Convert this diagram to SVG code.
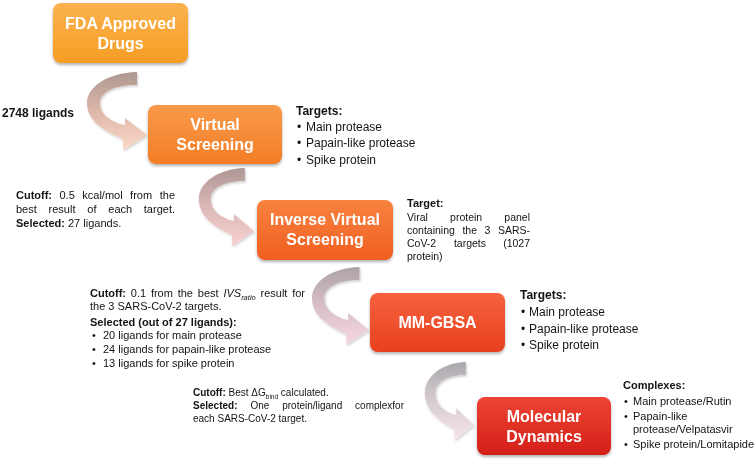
<svg xmlns="http://www.w3.org/2000/svg" xmlns:xlink="http://www.w3.org/1999/xlink" width="756" height="463" viewBox="0 0 756 463">
<style>
text{font-family:"Liberation Sans",Arial,sans-serif;fill:#141414}
.bt{font-weight:bold;font-size:16px;fill:#fff;text-anchor:middle}
.b{font-weight:bold}
.t12{font-size:12px}
.t11{font-size:11px}
.t105{font-size:10.5px}
.t10{font-size:10px}
.e{text-anchor:end}
</style>
<defs>
<filter id="sh" x="-10%" y="-10%" width="120%" height="130%">
<feDropShadow dx="0" dy="2" stdDeviation="1.5" flood-color="#000" flood-opacity="0.3"/>
</filter>
<filter id="ash" x="-20%" y="-20%" width="140%" height="140%">
<feDropShadow dx="1" dy="1.5" stdDeviation="1.2" flood-color="#000" flood-opacity="0.2"/>
</filter>
<linearGradient id="g1" x1="0" y1="0" x2="0" y2="1"><stop offset="0" stop-color="#fbb24e"/><stop offset="1" stop-color="#f69d25"/></linearGradient>
<linearGradient id="g2" x1="0" y1="0" x2="0" y2="1"><stop offset="0" stop-color="#f99a4a"/><stop offset="1" stop-color="#f37d26"/></linearGradient>
<linearGradient id="g3" x1="0" y1="0" x2="0" y2="1"><stop offset="0" stop-color="#f8823f"/><stop offset="1" stop-color="#ef5f20"/></linearGradient>
<linearGradient id="g4" x1="0" y1="0" x2="0" y2="1"><stop offset="0" stop-color="#f6623e"/><stop offset="1" stop-color="#e8401f"/></linearGradient>
<linearGradient id="g5" x1="0" y1="0" x2="0" y2="1"><stop offset="0" stop-color="#ec4435"/><stop offset="1" stop-color="#d41f18"/></linearGradient>
<linearGradient id="a1" x1="0" y1="0" x2="0" y2="1"><stop offset="0" stop-color="#ad9790"/><stop offset="0.45" stop-color="#d9b4a6"/><stop offset="1" stop-color="#fdd9c8"/></linearGradient>
<linearGradient id="a2" x1="0" y1="0" x2="0" y2="1"><stop offset="0" stop-color="#ad9896"/><stop offset="0.45" stop-color="#d8b4b2"/><stop offset="1" stop-color="#f9d2d0"/></linearGradient>
<linearGradient id="a3" x1="0" y1="0" x2="0" y2="1"><stop offset="0" stop-color="#aca3a8"/><stop offset="0.45" stop-color="#d5bcc4"/><stop offset="1" stop-color="#f7d8e0"/></linearGradient>
<linearGradient id="a4" x1="0" y1="0" x2="0" y2="1"><stop offset="0" stop-color="#a9a8ac"/><stop offset="0.45" stop-color="#d3c9ce"/><stop offset="1" stop-color="#f7e6ec"/></linearGradient>
<path id="carrow" d="M -10,-63 C -40,-62 -60,-48 -60,-32 C -60,-16 -46,-5 -24,4 L -24,15 L 0,0 L -22,-17 L -22,-10 C -37,-13 -47,-21 -47,-32 C -47,-43 -32,-50 -10,-50 Z"/>
</defs>

<g id="connectors" filter="url(#ash)">
<use xlink:href="#carrow" fill="url(#a1)" transform="translate(147,135)"/>
<use xlink:href="#carrow" fill="url(#a2)" transform="translate(254,231) scale(0.92,1)"/>
<use xlink:href="#carrow" fill="url(#a3)" transform="translate(369,330) scale(0.95,1)"/>
<use xlink:href="#carrow" fill="url(#a4)" transform="translate(474,425) scale(0.82,1)"/>
</g>

<g id="fda">
<rect x="53" y="3" width="135" height="60" rx="8" fill="url(#g1)" filter="url(#sh)"/>
<text class="bt" x="120.5" y="29">FDA Approved</text>
<text class="bt" x="120.5" y="49">Drugs</text>
</g>
<g id="vs">
<rect x="148" y="105" width="134" height="59" rx="8" fill="url(#g2)" filter="url(#sh)"/>
<text class="bt" x="215" y="130">Virtual</text>
<text class="bt" x="215" y="150">Screening</text>
</g>
<g id="ivs">
<rect x="257" y="200" width="136" height="60" rx="8" fill="url(#g3)" filter="url(#sh)"/>
<text class="bt" x="325" y="225">Inverse Virtual</text>
<text class="bt" x="325" y="245">Screening</text>
</g>
<g id="mmgbsa">
<rect x="370" y="293" width="135" height="59" rx="8" fill="url(#g4)" filter="url(#sh)"/>
<text class="bt" x="437.5" y="328">MM-GBSA</text>
</g>
<g id="md">
<rect x="477" y="397" width="134" height="58" rx="8" fill="url(#g5)" filter="url(#sh)"/>
<text class="bt" x="544" y="422">Molecular</text>
<text class="bt" x="544" y="442">Dynamics</text>
</g>

<g id="ligands">
<text class="b t12" x="2" y="117">2748 ligands</text>
</g>

<g id="targets1">
<text class="b t12" x="296" y="115">Targets:</text>
<text class="t12" x="297" y="131">•</text><text class="t12" x="306" y="131">Main protease</text>
<text class="t12" x="297" y="147">•</text><text class="t12" x="306" y="147">Papain-like protease</text>
<text class="t12" x="297" y="164">•</text><text class="t12" x="306" y="164">Spike protein</text>
</g>

<g id="cutoff1">
<text class="t11" y="199"><tspan class="b" x="16">Cutoff:</tspan><tspan x="59.5">0.5</tspan><tspan x="82.3">kcal/mol</tspan><tspan x="130.1">from</tspan></text>
<text class="t11 e" x="175" y="199">the</text>
<text class="t11" y="213"><tspan x="16">best</tspan><tspan x="48.6">result</tspan><tspan x="87.3">of</tspan><tspan x="108.3">each</tspan></text>
<text class="t11 e" x="175" y="213">target.</text>
<text class="t11" x="16" y="227"><tspan class="b">Selected:</tspan> 27 ligands.</text>
</g>

<g id="target2">
<text class="b t11" x="407" y="207">Target:</text>
<text class="t105" y="221"><tspan x="407">Viral</tspan><tspan x="450.1">protein</tspan></text>
<text class="t105 e" x="530" y="221">panel</text>
<text class="t105" y="234"><tspan x="407">containing</tspan><tspan x="462.4">the</tspan><tspan x="484.5">3</tspan></text>
<text class="t105 e" x="530" y="234">SARS-</text>
<text class="t105" y="247"><tspan x="407">CoV-2</tspan><tspan x="453.9">targets</tspan></text>
<text class="t105 e" x="530" y="247">(1027</text>
<text class="t105" x="407" y="260">protein)</text>
</g>

<g id="cutoff3">
<text class="t11" y="297"><tspan class="b" x="90">Cutoff:</tspan><tspan x="130.8">0.1</tspan><tspan x="150.9">from</tspan><tspan x="177.7">the</tspan><tspan x="197.8">best</tspan><tspan x="223.4" font-style="italic">IVS</tspan><tspan font-style="italic" font-size="7.5px" dy="2.5">ratio</tspan><tspan x="260.5" dy="-2.5">result</tspan></text>
<text class="t11 e" x="305" y="297">for</text>
<text class="t11" x="90" y="310">the 3 SARS-CoV-2 targets.</text>
<text class="t11 b" x="90" y="326">Selected (out of 27 ligands):</text>
<text class="t11" x="92" y="339">•</text><text class="t11" x="103" y="339">20 ligands for main protease</text>
<text class="t11" x="92" y="353">•</text><text class="t11" x="103" y="353">24 ligands for papain-like protease</text>
<text class="t11" x="92" y="367">•</text><text class="t11" x="103" y="367">13 ligands for spike protein</text>
</g>

<g id="targets4">
<text class="b t12" x="520" y="299">Targets:</text>
<text class="t12" x="521" y="316">•</text><text class="t12" x="529" y="316">Main protease</text>
<text class="t12" x="521" y="333">•</text><text class="t12" x="529" y="333">Papain-like protease</text>
<text class="t12" x="521" y="349">•</text><text class="t12" x="529" y="349">Spike protein</text>
</g>

<g id="cutoff4">
<text class="t10" x="193" y="396"><tspan class="b">Cutoff:</tspan> Best ΔG<tspan font-size="6.5px" dy="2.5">bind</tspan><tspan dy="-2.5"> calculated.</tspan></text>
<text class="t10" y="409"><tspan class="b" x="193">Selected:</tspan><tspan x="250.4">One</tspan><tspan x="282.2">protein/ligand</tspan></text>
<text class="t10 e" x="404" y="409">complexfor</text>
<text class="t10" x="193" y="422">each SARS-CoV-2 target.</text>
</g>

<g id="complexes">
<text class="b t11" x="623" y="389">Complexes:</text>
<text class="t11" x="624" y="405">•</text><text class="t11" x="633" y="405">Main protease/Rutin</text>
<text class="t11" x="624" y="420">•</text><text class="t11" x="633" y="420">Papain-like</text>
<text class="t11" x="633" y="433">protease/Velpatasvir</text>
<text class="t11" x="624" y="448">•</text><text class="t11" x="633" y="448">Spike protein/Lomitapide</text>
</g>
</svg>
